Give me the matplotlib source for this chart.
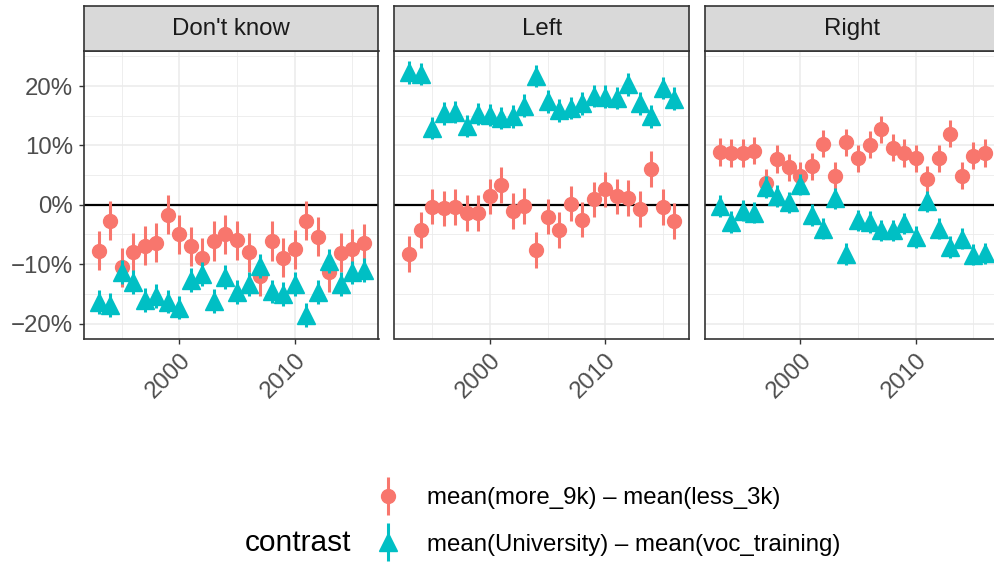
import matplotlib.pyplot as plt
from matplotlib.ticker import FixedLocator, FuncFormatter
from matplotlib.legend_handler import HandlerErrorbar
from matplotlib.container import ErrorbarContainer

plt.rcParams['font.family'] = ['Liberation Sans', 'DejaVu Sans']

years = list(range(1993, 2017))
panels = ["Don't know", "Left", "Right"]

# mean(more_9k) - mean(less_3k), in %
income_dk = [-7.7, -2.7, -10.5, -8.0, -6.9, -6.4, -1.7, -5.0, -7.0, -8.9, -6.1, -5.0,
             -6.0, -8.0, -12.0, -6.1, -8.9, -7.5, -2.7, -5.4, -11.4, -8.1, -7.4, -6.5]
income_left = [-8.3, -4.2, -0.3, -0.6, -0.4, -1.4, -1.4, 1.4, 3.3, -1.0, -0.2, -7.6,
               -2.0, -4.2, 0.2, -2.5, 0.9, 2.6, 1.4, 1.1, -0.7, 6.0, -0.4, -2.7]
income_right = [8.9, 8.7, 8.7, 9.1, 3.7, 7.7, 6.3, 4.9, 6.5, 10.3, 4.9, 10.5,
                7.8, 10.1, 12.7, 9.6, 8.7, 7.8, 4.3, 7.8, 12.0, 4.9, 8.3, 8.7]

# mean(University) - mean(voc_training), in %
edu_dk = [-16.4, -16.9, -11.3, -13.0, -16.0, -15.4, -16.3, -17.3, -12.7, -11.6, -16.2, -12.2,
          -14.7, -13.4, -10.3, -14.6, -15.0, -13.4, -18.6, -14.7, -9.5, -13.4, -11.4, -11.0]
edu_left = [22.3, 22.0, 12.9, 15.4, 15.6, 13.3, 15.3, 15.1, 14.6, 14.9, 16.7, 21.7,
            17.4, 15.9, 16.3, 17.1, 18.3, 18.2, 18.0, 20.3, 17.1, 14.9, 19.7, 17.9]
edu_right = [-0.2, -2.9, -1.0, -1.3, 3.0, 1.5, 0.4, 3.4, -1.7, -4.0, 1.1, -8.3,
             -2.6, -2.9, -4.3, -4.3, -3.1, -5.4, 0.6, -4.0, -7.1, -5.7, -8.4, -8.2]

# half-width of the intervals, in %
income_err = [3.3, 3.0, 2.3]
edu_err = [2.0, 1.9, 1.8]

income = [income_dk, income_left, income_right]
edu = [edu_dk, edu_left, edu_right]

red = "#F8766D"
teal = "#00BFC4"
W, H = 995, 563
small = 17.3

fig = plt.figure(figsize=(W / 100, H / 100), dpi=100)

def px(x0, y0, w, h):
    return [x0 / W, 1 - (y0 + h) / H, w / W, h / H]

lefts = [84, 394.5, 705]
pw = 294.5
handles = []
for i, name in enumerate(panels):
    ax = fig.add_axes(px(lefts[i], 51, pw, 288))
    ax.set_xlim(1991.7, 2017.3)
    ax.set_ylim(-22.6, 25.9)
    ax.xaxis.set_minor_locator(FixedLocator([1995, 2005, 2015]))
    ax.yaxis.set_major_locator(FixedLocator([-20, -10, 0, 10, 20]))
    ax.yaxis.set_minor_locator(FixedLocator([-15, -5, 5, 15, 25]))
    ax.grid(which="major", color="#EBEBEB", lw=1.1)
    ax.grid(which="minor", color="#EBEBEB", lw=0.6)
    ax.set_axisbelow(True)
    ax.tick_params(which="minor", length=0)
    ax.tick_params(which="major", length=3.5, width=1, color="#333333",
                   labelcolor="#4D4D4D", labelsize=small, pad=4.5)
    for s in ax.spines.values():
        s.set_color("#333333")
        s.set_linewidth(1.2)
    ax.axhline(0, color="black", lw=1.6, zorder=1)

    h1 = ax.errorbar(years, income[i], yerr=income_err[i], fmt="o", color=red,
                     ms=10, elinewidth=2.2, capsize=0, zorder=3)
    h2 = ax.errorbar(years, edu[i], yerr=edu_err[i], fmt="^", color=teal,
                     ms=13, elinewidth=2.2, capsize=0, zorder=4)
    handles = [h1, h2]

    ax.set_xticks([2000, 2010])
    ax.set_xticklabels(["2000", "2010"], rotation=45, ha="right", va="top",
                       rotation_mode="anchor")
    ax.tick_params(axis="x", pad=3.5)
    if i == 0:
        ax.yaxis.set_major_formatter(FuncFormatter(
            lambda v, p: f"{int(v)}%".replace("-", "\u2212")))
    else:
        ax.set_yticklabels([])
        ax.tick_params(axis="y", length=0)

    strip = fig.add_axes(px(lefts[i], 6, pw, 45))
    strip.set_facecolor("#D9D9D9")
    strip.set_xticks([])
    strip.set_yticks([])
    for s in strip.spines.values():
        s.set_color("#333333")
        s.set_linewidth(1.2)
    strip.text(0.5, 0.48, name, ha="center", va="center", fontsize=small,
               color="#1A1A1A", transform=strip.transAxes)

fig.legend(handles,
           ["mean(more_9k) \u2013 mean(less_3k)",
            "mean(University) \u2013 mean(voc_training)"],
           loc="center left", bbox_to_anchor=(374 / W, 1 - 521.5 / H),
           frameon=False, fontsize=small, handlelength=1.2, handletextpad=1.0,
           labelspacing=1.0, borderpad=0, borderaxespad=0,
           handler_map={ErrorbarContainer: HandlerErrorbar(yerr_size=0.8)})
fig.text(245 / W, 1 - 543 / H, "contrast", fontsize=21.5, va="center",
         color="black")

fig.savefig("out.png", dpi=100)
